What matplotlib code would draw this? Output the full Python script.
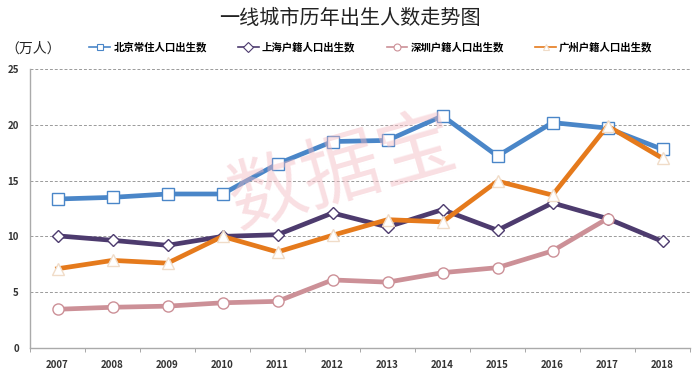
import matplotlib.pyplot as plt
from matplotlib.lines import Line2D
import numpy as np

plt.rcParams['font.family'] = ['Noto Sans CJK SC', 'DejaVu Sans']

# 数据（万人）
years = ['2007', '2008', '2009', '2010', '2011', '2012',
         '2013', '2014', '2015', '2016', '2017', '2018']
beijing = [13.35, 13.5, 13.8, 13.8, 16.5, 18.5, 18.6, 20.8, 17.2, 20.2, 19.7, 17.8]
shanghai = [10.05, 9.65, 9.2, 10.0, 10.15, 12.1, 10.85, 12.4, 10.55, 13.0, 11.6, 9.55]
shenzhen = [3.47, 3.65, 3.75, 4.05, 4.18, 6.1, 5.9, 6.75, 7.2, 8.7, 11.6, np.nan]
guangzhou = [7.1, 7.85, 7.6, 10.0, 8.6, 10.1, 11.5, 11.3, 14.95, 13.7, 19.9, 17.0]

names = ['北京常住人口出生数', '上海户籍人口出生数', '深圳户籍人口出生数', '广州户籍人口出生数']
colors = ['#4a86c8', '#4d3b6e', '#cc9097', '#e57a1c']
markers = ['s', 'D', 'o', '^']
msizes = [8, 6, 8, 8]
medges = ['#4a86c8', '#4d3b6e', '#cc9097', '#f0dcc8']

fig = plt.figure(figsize=(7, 3.78), dpi=100)
ax = fig.add_axes([30 / 700, 30 / 378, 660 / 700, 279 / 378])

x = np.arange(len(years))

# 水印
fig.text(0.49, 0.54, '数据宝', fontsize=56, color='#f2b8c0', alpha=0.45,
         rotation=16, ha='center', va='center', zorder=0)

series = [beijing, shanghai, shenzhen, guangzhou]
handles = []
for vals, c, m, ms, me, nm in zip(series, colors, markers, msizes, medges, names):
    ax.plot(x, vals, color=c, lw=3.4, marker=m, markersize=ms,
            markerfacecolor='white', markeredgecolor=me, markeredgewidth=1.0,
            zorder=3)
    handles.append(Line2D([0], [0], color=c, lw=1.2, marker=m, markersize=5,
                          markerfacecolor='white', markeredgecolor=me,
                          markeredgewidth=0.8, label=nm))

ax.set_xlim(-0.5, len(years) - 0.5)
ax.set_ylim(0, 25)
ax.set_yticks([0, 5, 10, 15, 20, 25])
ax.yaxis.grid(True, linestyle=(0, (3, 2)), color='#9a9a9a', lw=0.7)
ax.set_axisbelow(True)

ax.set_xticks(x)
ax.set_xticklabels(years, fontsize=7, fontweight='bold', color='#333333')
ax.set_xticks(np.arange(-0.5, len(years)), minor=True)
ax.tick_params(axis='x', which='major', length=0, pad=9)
ax.tick_params(axis='x', which='minor', length=3, color='#999999')
ax.tick_params(axis='y', length=0, labelsize=7, pad=8, labelcolor='#333333')
for lab in ax.get_yticklabels():
    lab.set_fontweight('bold')

for s in ['top', 'right']:
    ax.spines[s].set_visible(False)
for s in ['left', 'bottom']:
    ax.spines[s].set_color('#aaaaaa')
    ax.spines[s].set_linewidth(1.0)

fig.text(0.5, 0.952, '一线城市历年出生人数走势图', fontsize=14.5, ha='center',
         va='center', color='#222222')
fig.text(0.008, 0.872, '（万人）', fontsize=10, ha='left', va='center',
         color='#222222')

fig.legend(handles=handles, loc='center', bbox_to_anchor=(0.53, 0.875), ncol=4,
           frameon=False, handlelength=2.0, handletextpad=0.3,
           columnspacing=3.0, prop={'weight': 'bold', 'size': 7.5})

fig.savefig('out.png', dpi=100, facecolor='white')
